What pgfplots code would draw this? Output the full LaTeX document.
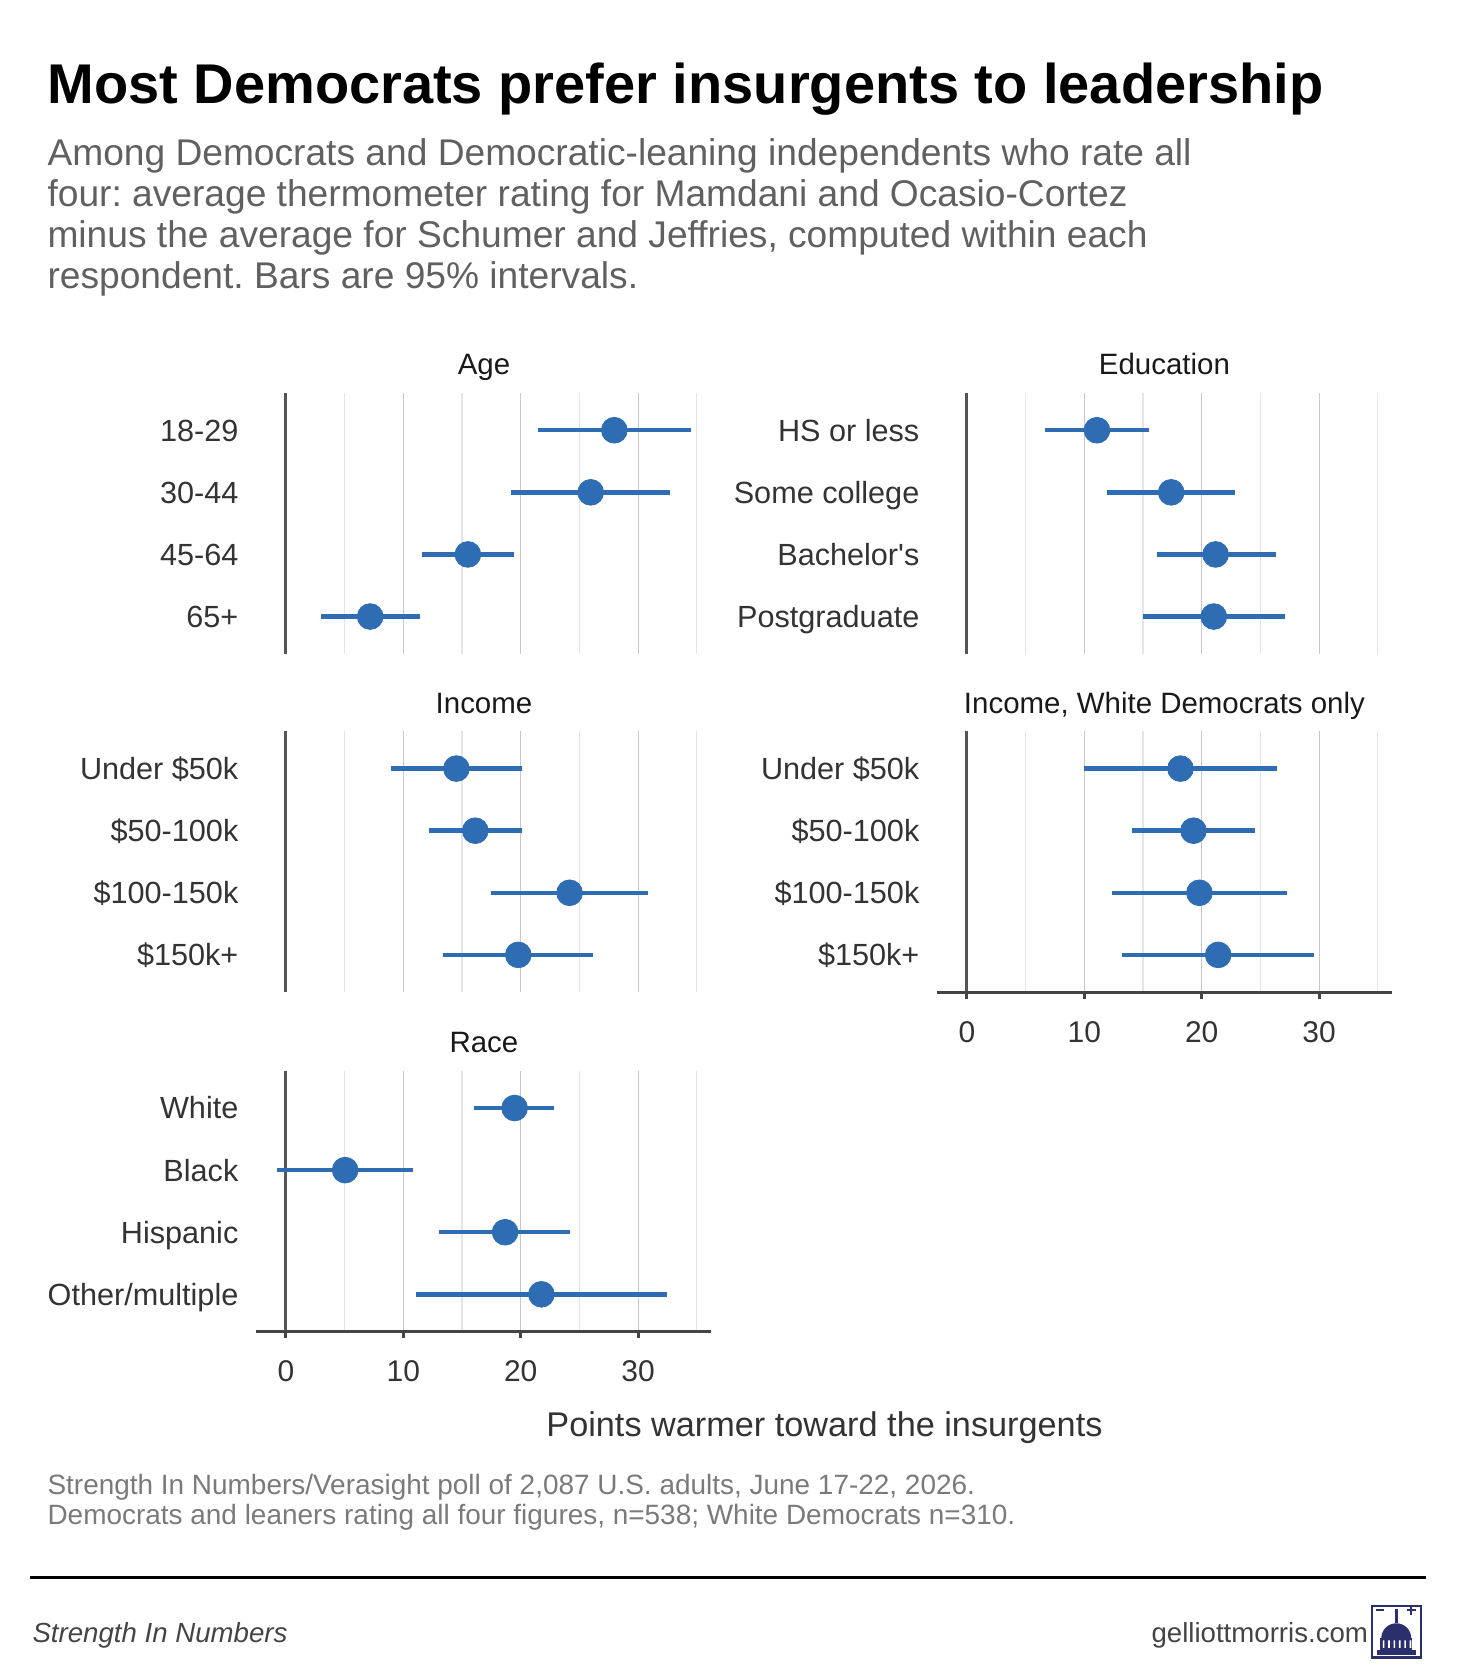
\documentclass[border=0pt]{standalone}
\usepackage{pgfplots}
\pgfplotsset{compat=1.18}
\usepackage{pgfplotstable}
\usepackage{fontspec}
\setmainfont{Liberation Sans}
\frenchspacing
\definecolor{ptblue}{HTML}{2E6DB4}
\definecolor{gridmaj}{HTML}{C8C8C8}
\definecolor{gridmin}{HTML}{E5E5E5}
\definecolor{zerocol}{HTML}{555555}
\definecolor{axcol}{HTML}{444444}
\definecolor{labcol}{HTML}{333333}
\definecolor{subcol}{HTML}{606060}
\definecolor{capcol}{HTML}{7A7A7A}
\definecolor{navy}{HTML}{2B2F6B}

\pgfplotstableread{
y est lo hi
4 27.97 21.46 34.50
3 25.96 19.20 32.74
2 15.50 11.56 19.40
1 7.18 2.96 11.40
}\agetab
\pgfplotstableread{
y est lo hi
4 11.08 6.67 15.54
3 17.40 11.95 22.84
2 21.18 16.17 26.30
1 21.03 15.03 27.10
}\edutab
\pgfplotstableread{
y est lo hi
4 14.52 8.99 20.07
3 16.13 12.22 20.07
2 24.16 17.49 30.82
1 19.79 13.38 26.17
}\inctab
\pgfplotstableread{
y est lo hi
4 18.19 9.97 26.40
3 19.30 14.08 24.56
2 19.80 12.33 27.30
1 21.40 13.20 29.58
}\wintab
\pgfplotstableread{
y est lo hi
4 19.48 16.05 22.87
3 5.05 -0.74 10.82
2 18.67 13.07 24.22
1 21.76 11.12 32.47
}\racetab

\pgfplotsset{
  panel/.style={
    scale only axis, width=212.5pt, height=121.8pt,
    xmin=-2.55, xmax=36.2, ymin=0.4, ymax=4.6,
    xtick={0,10,20,30}, minor xtick={5,15,25,35},
    xmajorgrids, xminorgrids,
    major grid style={color=gridmaj, line width=0.6pt},
    minor grid style={color=gridmin, line width=0.55pt},
    ytick={1,2,3,4},
    tick pos=left, tick align=outside,
    major tick length=3pt, minor tick length=0pt,
    ytick style={draw=none},
    axis line style={draw=none},
    yticklabel style={font=\fontsize{14.3}{16}\selectfont, text=labcol, anchor=base east, inner sep=0pt, xshift=-5pt, yshift=-5.1pt},
    xticklabel style={font=\fontsize{14}{16}\selectfont, text=labcol, anchor=north, inner sep=0pt, yshift=-10.5pt},
    clip=false,
  },
  toppanel/.style={panel, xtick style={draw=none}, xticklabels={}},
  botpanel/.style={panel, xtick style={draw=axcol, line width=1.4pt}, xticklabels={0,10,20,30}},
  zeroline/.style={draw=zerocol, line width=1.5pt},
  ci/.style={only marks, mark=*, mark size=6pt, color=ptblue,
    mark options={draw=ptblue, fill=ptblue},
    error bars/.cd, x dir=both, x explicit, error mark=none,
    error bar style={line width=2.1pt, color=ptblue}},
}

\newcommand{\drawci}[1]{%
  \addplot[ci] table[x=est, y=y,
     x error plus expr=\thisrow{hi}-\thisrow{est},
     x error minus expr=\thisrow{est}-\thisrow{lo}] {#1};}

\begin{document}
\begin{tikzpicture}
\useasboundingbox (0,0) rectangle (680pt,-784.5pt);

% Age
\begin{axis}[toppanel, at={(119.5pt,-183.5pt)}, anchor=north west,
  yticklabels={65+,45-64,30-44,18-29}]
  \addplot[zeroline] coordinates {(0,0.4) (0,4.6)};
  \drawci{\agetab}
\end{axis}

% Education
\begin{axis}[toppanel, at={(437.5pt,-183.5pt)}, anchor=north west,
  yticklabels={Postgraduate,Bachelor\textquotesingle s,Some college,HS or less}]
  \addplot[zeroline] coordinates {(0,0.4) (0,4.6)};
  \drawci{\edutab}
\end{axis}

% Income
\begin{axis}[toppanel, at={(119.5pt,-341.5pt)}, anchor=north west,
  yticklabels={\$150k+,\$100-150k,\$50-100k,Under \$50k}]
  \addplot[zeroline] coordinates {(0,0.4) (0,4.6)};
  \drawci{\inctab}
\end{axis}

% Income, White Democrats only
\begin{axis}[botpanel, at={(437.5pt,-341.5pt)}, anchor=north west,
  yticklabels={\$150k+,\$100-150k,\$50-100k,Under \$50k}]
  \addplot[zeroline] coordinates {(0,0.4) (0,4.6)};
  \draw[axcol, line width=1.5pt] (axis cs:-2.55,0.4) -- (axis cs:36.2,0.4);
  \drawci{\wintab}
\end{axis}

% Race
\begin{axis}[botpanel, at={(119.5pt,-500pt)}, anchor=north west,
  yticklabels={Other/multiple,Hispanic,Black,White}]
  \addplot[zeroline] coordinates {(0,0.4) (0,4.6)};
  \draw[axcol, line width=1.5pt] (axis cs:-2.55,0.4) -- (axis cs:36.2,0.4);
  \drawci{\racetab}
\end{axis}

\begin{scope}[x=0.5pt, y=-0.5pt]
  % title
  \node[anchor=base west, inner sep=0pt, font=\fontsize{26.15}{30}\selectfont\bfseries] at (44,97)
    {Most Democrats prefer insurgents to leadership};
  % subtitle
  \begin{scope}[every node/.style={anchor=base west, inner sep=0pt, text=subcol, font=\fontsize{17.35}{19}\selectfont}]
    \node at (44,155) {Among Democrats and Democratic-leaning independents who rate all};
    \node at (44,193) {four: average thermometer rating for Mamdani and Ocasio-Cortez};
    \node at (44,231) {minus the average for Schumer and Jeffries, computed within each};
    \node at (44,269) {respondent. Bars are 95\% intervals.};
  \end{scope}
  % strip titles
  \begin{scope}[every node/.style={anchor=base, inner sep=0pt, text=black!90, font=\fontsize{13.75}{16}\selectfont}]
    \node at (452,350) {Age};
    \node at (1087.5,350) {Education};
    \node at (452,666) {Income};
    \node at (1087.5,666) {Income, White Democrats only};
    \node at (452,983) {Race};
  \end{scope}
  % x label
  \node[anchor=base, inner sep=0pt, text=labcol, font=\fontsize{16}{19}\selectfont] at (770,1342)
    {Points warmer toward the insurgents};
  % caption
  \begin{scope}[every node/.style={anchor=base west, inner sep=0pt, text=capcol, font=\fontsize{13.05}{14}\selectfont}]
    \node at (44,1396) {Strength In Numbers/Verasight poll of 2,087 U.S. adults, June 17-22, 2026.};
    \node at (44,1424) {Democrats and leaners rating all four figures, n=538; White Democrats n=310.};
  \end{scope}
  % rule
  \draw[black, line width=1.5pt] (28,1473) -- (1332,1473);
  % footer
  \node[anchor=base west, inner sep=0pt, text=axcol, font=\fontsize{12.9}{15}\selectfont\itshape] at (30,1534) {Strength In Numbers};
  \node[anchor=base east, inner sep=0pt, text=axcol, font=\fontsize{12.9}{15}\selectfont] at (1278,1534) {gelliottmorris.com};
  % logo
  \draw[navy, line width=1pt] (1281,1500) rectangle (1327,1548);
  \fill[navy] (1286,1546) rectangle (1322,1541);
  \fill[navy] (1289,1541) rectangle (1319,1530);
  \fill[navy] (1290,1530) arc (180:360:14) -- cycle;
  \fill[navy] (1302.5,1516) rectangle (1305.5,1503);
  \fill[white] \foreach \i in {0,...,5} {(1291.5+\i*5,1539) rectangle (1293+\i*5,1532)};
  \fill[navy] (1285,1503) rectangle (1293,1505);
  \fill[navy] (1314,1503) rectangle (1322,1505);
  \fill[navy] (1317,1500) rectangle (1319,1508);
\end{scope}
\end{tikzpicture}
\end{document}
